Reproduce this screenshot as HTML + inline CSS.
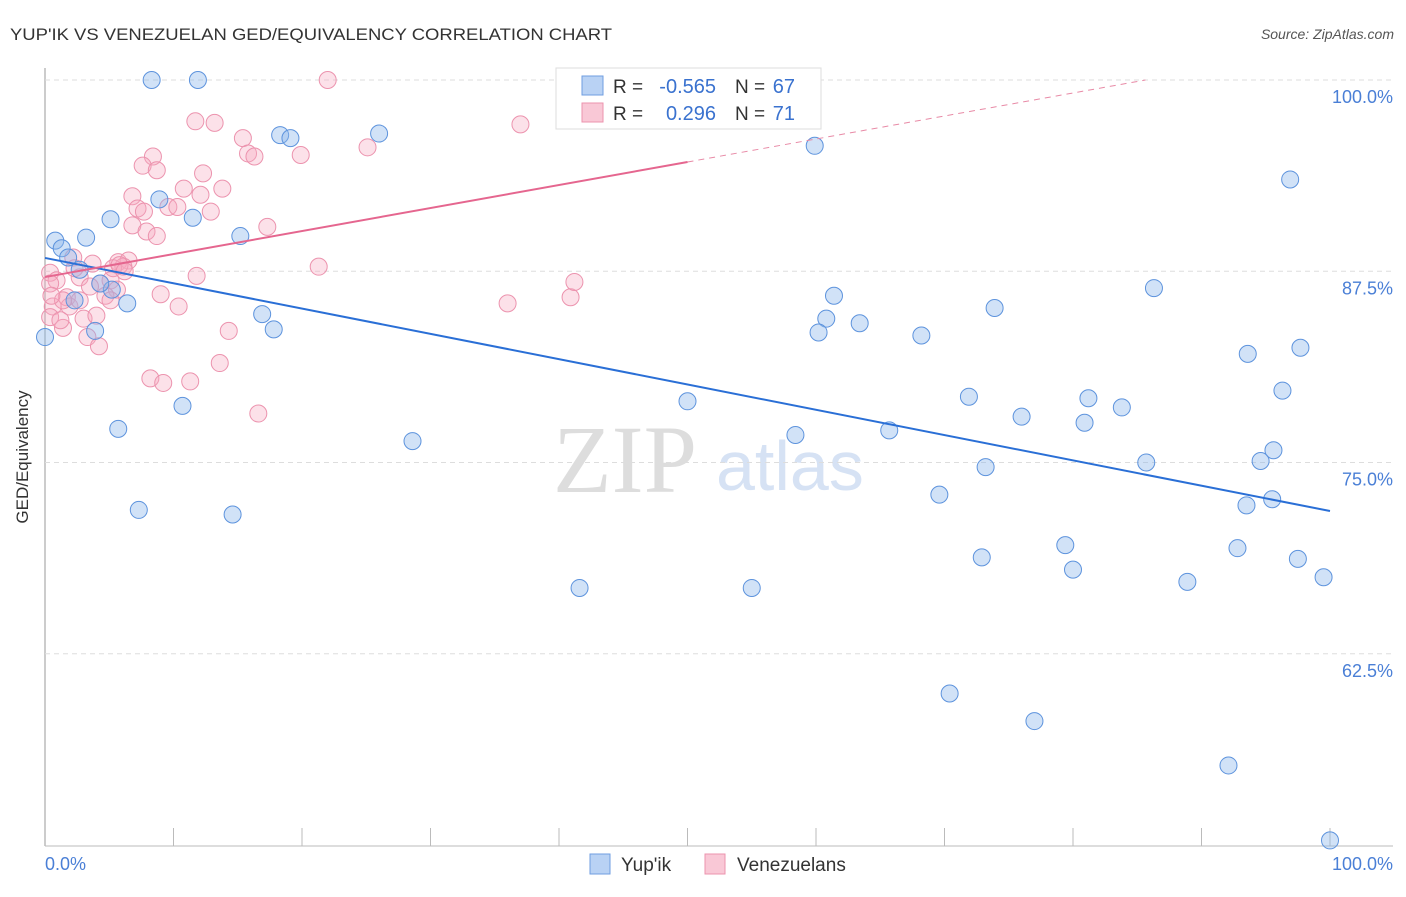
<!DOCTYPE html>
<html><head><meta charset="utf-8"><style>
body{margin:0;background:#fff;font-family:"Liberation Sans",sans-serif;}
</style></head><body>
<svg id="c" width="1406" height="892" xmlns="http://www.w3.org/2000/svg">
<text x="10" y="40" font-size="17" fill="#333" textLength="602" lengthAdjust="spacingAndGlyphs">YUP'IK VS VENEZUELAN GED/EQUIVALENCY CORRELATION CHART</text>
<text x="1394" y="39" font-size="14" fill="#555" text-anchor="end" font-style="italic">Source: ZipAtlas.com</text>
<g>
<text x="553" y="492" font-size="96" fill="#ddd" font-family="Liberation Serif,serif">ZIP</text>
<text x="716" y="490" font-size="70" fill="#d6e2f4">atlas</text>
</g>
<g id="grid"></g>
<g id="pts"></g>
<g id="lines"></g>
<text x="28" y="457" font-size="17" fill="#333" text-anchor="middle" transform="rotate(-90 28 457)">GED/Equivalency</text>
<text x="45" y="870" font-size="18" fill="#4a7fd6">0.0%</text>
<text x="1393" y="870" font-size="18" fill="#4a7fd6" text-anchor="end">100.0%</text>
<g>
<rect x="556" y="68" width="265" height="61" fill="#fff" stroke="#ddd"/>
<rect x="582" y="76" width="21" height="19" fill="#b9d2f4" stroke="#6f9ee0"/>
<rect x="582" y="103" width="21" height="19" fill="#f9c8d6" stroke="#ec93ae"/>
<text x="613" y="93" font-size="19" fill="#333">R =</text>
<text x="716" y="93" font-size="20" fill="#3a72cf" text-anchor="end">-0.565</text>
<text x="735" y="93" font-size="19" fill="#333">N =</text>
<text x="795" y="93" font-size="20" fill="#3a72cf" text-anchor="end">67</text>
<text x="613" y="120" font-size="19" fill="#333">R =</text>
<text x="716" y="120" font-size="20" fill="#3a72cf" text-anchor="end">0.296</text>
<text x="735" y="120" font-size="19" fill="#333">N =</text>
<text x="795" y="120" font-size="20" fill="#3a72cf" text-anchor="end">71</text>
</g>
<g>
<rect x="590" y="854" width="20" height="20" fill="#b9d2f4" stroke="#6f9ee0"/>
<text x="621" y="871" font-size="19" fill="#333">Yup'ik</text>
<rect x="705" y="854" width="20" height="20" fill="#f9c8d6" stroke="#ec93ae"/>
<text x="737" y="871" font-size="19" fill="#333">Venezuelans</text>
</g>
</svg>
<script>
const yTicks=[100,87.5,75,62.5];
const yTickLabels=["100.0%","87.5%","75.0%","62.5%"];
const blueX=[8.3,11.9,18.3,19.1,26.0,59.9,96.9,8.9,11.5,5.1,15.2,0.8,3.2,1.3,1.8,2.7,5.2,4.3,2.3,6.4,16.9,17.8,3.9,0,61.4,60.8,60.2,63.4,68.2,73.9,86.3,93.6,97.7,96.3,71.9,76.0,81.2,83.8,80.9,65.7,50.0,58.4,10.7,5.7,28.6,85.7,94.6,95.6,73.2,69.6,93.5,95.5,7.3,14.6,72.9,79.4,80.0,88.9,92.8,97.5,99.5,41.6,55.0,70.4,77.0,92.1,100];
const blueY=[100,100,96.4,96.2,96.5,95.7,93.5,92.2,91.0,90.9,89.8,89.5,89.7,89.0,88.4,87.6,86.3,86.7,85.6,85.4,84.7,83.7,83.6,83.2,85.9,84.4,83.5,84.1,83.3,85.1,86.4,82.1,82.5,79.7,79.3,78.0,79.2,78.6,77.6,77.1,79.0,76.8,78.7,77.2,76.4,75.0,75.1,75.8,74.7,72.9,72.2,72.6,71.9,71.6,68.8,69.6,68.0,67.2,69.4,68.7,67.5,66.8,66.8,59.9,58.1,55.2,50.3];
const pinkX=[22.0,11.7,13.2,15.4,15.8,16.3,19.9,25.1,37.0,8.4,7.6,8.7,12.3,10.8,13.8,12.1,6.8,7.2,7.7,9.6,10.3,12.9,17.3,6.8,7.9,8.7,21.3,11.8,9.0,10.4,14.3,13.6,8.2,9.2,11.3,16.6,5.7,6.5,6.1,3.7,2.2,2.7,4.3,5.1,5.6,0.4,0.9,0.4,1.7,0.6,0.4,1.4,3.0,4.0,1.9,3.3,4.2,4.7,2.7,3.5,36.0,40.9,41.2,1.4,5.3,5.8,0.5,1.2,2.3,5.1,6.2];
const pinkY=[100,97.3,97.2,96.2,95.2,95.0,95.1,95.6,97.1,95.0,94.4,94.1,93.9,92.9,92.9,92.5,92.4,91.6,91.4,91.7,91.7,91.4,90.4,90.5,90.1,89.8,87.8,87.2,86.0,85.2,83.6,81.5,80.5,80.2,80.3,78.2,88.1,88.2,87.8,88.0,88.4,87.1,86.7,86.9,86.3,87.4,86.9,86.7,85.8,85.2,84.5,83.8,84.4,84.6,85.2,83.2,82.6,85.9,85.6,86.5,85.4,85.8,86.8,85.6,87.7,87.9,85.9,84.3,87.7,85.6,87.5];
const blueTrend=[88.37,71.83];
const pinkTrend=[87.12,102.16];
const xs=p=>45+p*12.85, ys=v=>80+(100-v)*15.3;
const NS="http://www.w3.org/2000/svg";
function mk(t,a,parent){const e=document.createElementNS(NS,t);for(const k in a)e.setAttribute(k,a[k]);parent.appendChild(e);return e;}
const grid=document.getElementById('grid');
mk('line',{x1:45,y1:68,x2:45,y2:846,stroke:'#999'},grid);
mk('line',{x1:45,y1:846,x2:1393,y2:846,stroke:'#bbb'},grid);
yTicks.forEach((t,i)=>{
 const g=mk('line',{x1:45,y1:ys(t),x2:1393,y2:ys(t),stroke:'#ddd','stroke-dasharray':'5,4'},grid);
 
 
 const tx=mk('text',{x:1393,y:ys(t)+23,'font-size':18,fill:'#4a7fd6','text-anchor':'end'},grid);
 tx.textContent=yTickLabels[i];
 
 
});
for(let i=1;i<=10;i++){
 const tk=mk('line',{x1:xs(i*10),y1:828,x2:xs(i*10),y2:846,stroke:'#bbb'},grid);
 
 
}
const pts=document.getElementById('pts');
pinkX.forEach((x,i)=>{
 const c=mk('circle',{cx:xs(x),cy:ys(pinkY[i]),r:8.5,fill:'rgba(246,170,192,0.35)',stroke:'#ec93ae','stroke-width':1},pts);
 
 
});
blueX.forEach((x,i)=>{
 const c=mk('circle',{cx:xs(x),cy:ys(blueY[i]),r:8.5,fill:'rgba(140,182,236,0.4)',stroke:'#5d93dd','stroke-width':1},pts);
 
 
});
const L=document.getElementById('lines');
const bl=mk('line',{x1:xs(0),y1:ys(blueTrend[0]),x2:xs(100),y2:ys(blueTrend[1]),stroke:'#2a6fd6','stroke-width':2},L);


const pv=p=>pinkTrend[0]+(pinkTrend[1]-pinkTrend[0])*p/100;
const pEnd=(100-pinkTrend[0])/(pinkTrend[1]-pinkTrend[0])*100;
const pl=mk('line',{x1:xs(0),y1:ys(pv(0)),x2:xs(50),y2:ys(pv(50)),stroke:'#e5668f','stroke-width':2},L);


const pd=mk('line',{x1:xs(50),y1:ys(pv(50)),x2:xs(pEnd),y2:ys(100),stroke:'#e88aa6','stroke-width':1,'stroke-dasharray':'6,5'},L);


</script>
</body></html>
